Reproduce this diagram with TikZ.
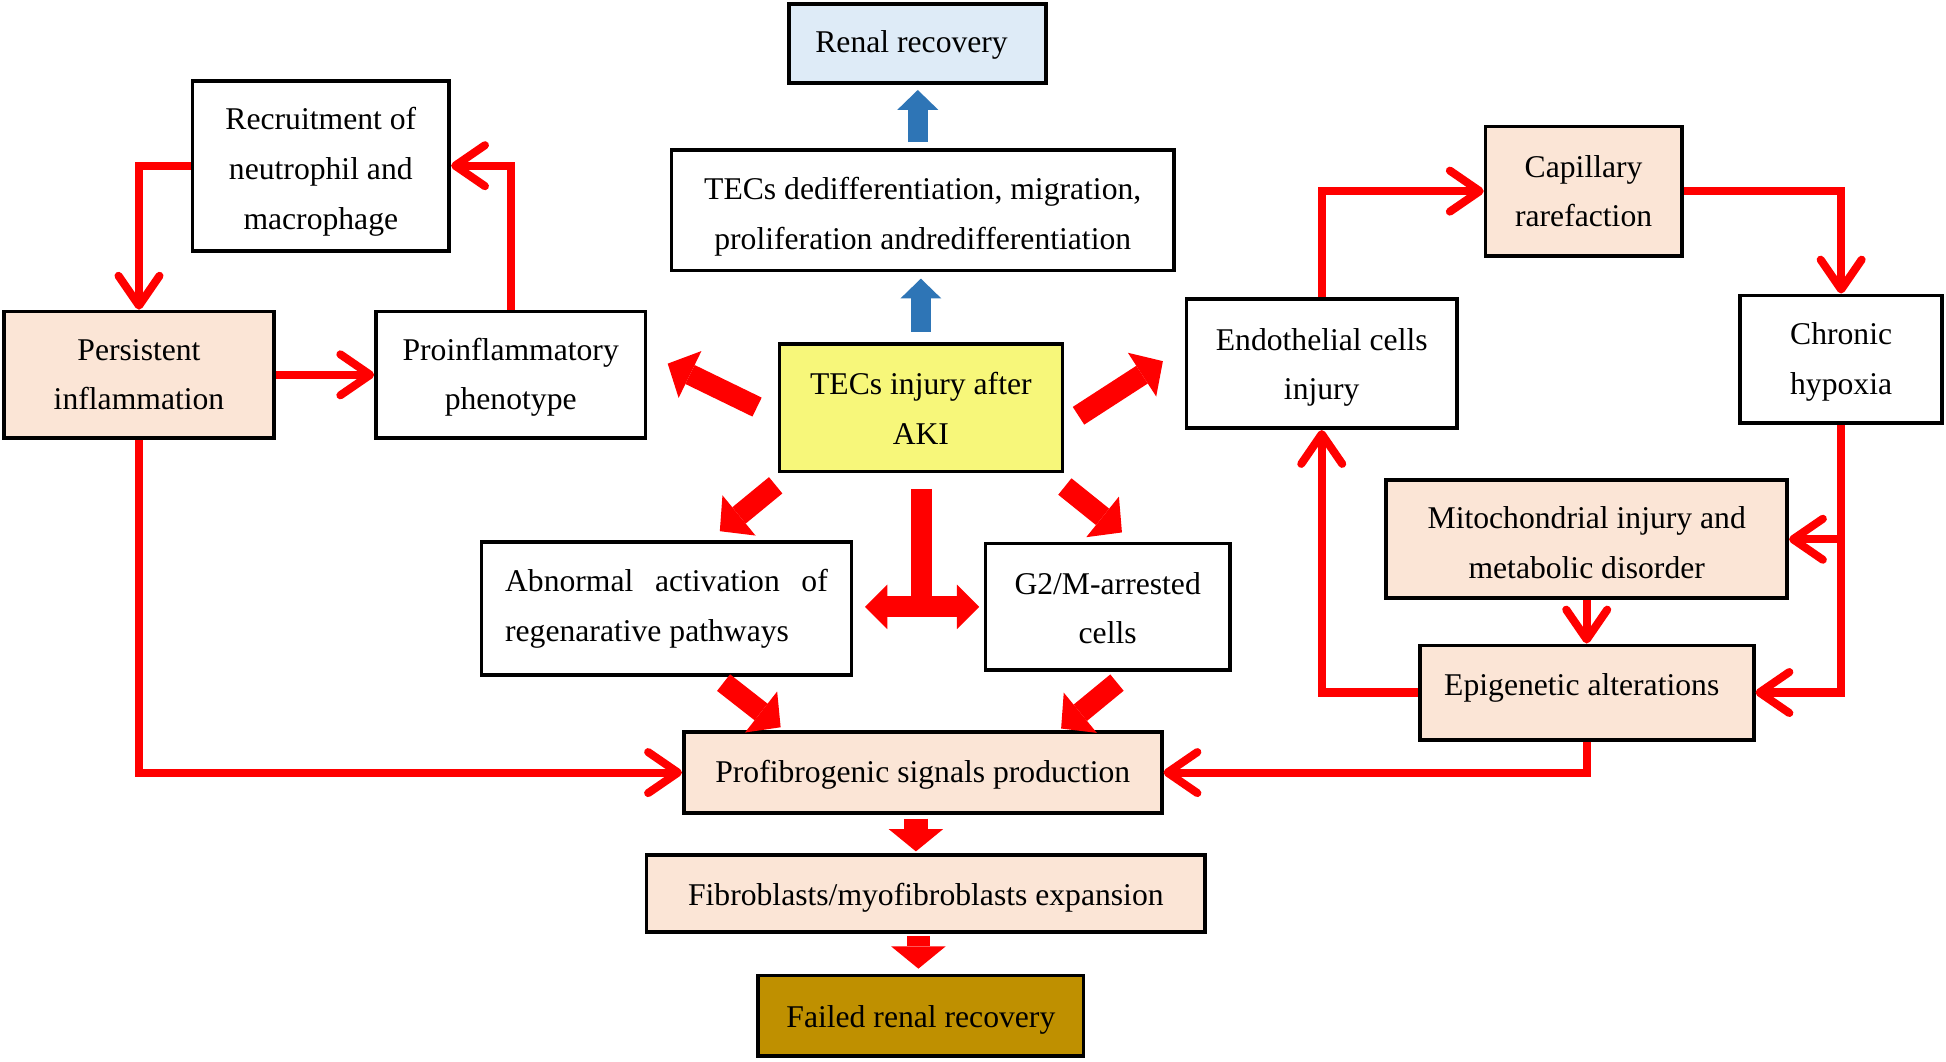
\documentclass[tikz,border=0pt]{standalone}
\usepackage{fontspec}
\setmainfont{Liberation Serif}
\usetikzlibrary{arrows.meta}
\definecolor{peach}{HTML}{FBE5D6}
\definecolor{lblue}{HTML}{DEEBF7}
\definecolor{yel}{HTML}{F7F77A}
\definecolor{gold}{HTML}{BF9000}
\definecolor{bblue}{HTML}{2E75B6}
\definecolor{rred}{HTML}{FF0000}
\begin{document}
\begin{tikzpicture}[x=1pt,y=-1pt,
  box/.style={draw=black, line width=3pt, inner sep=0pt},
  txt/.style={align=center, inner sep=0pt, text=black,
    font=\fontsize{25.5}{40}\selectfont},
  conn/.style={draw=rred, line width=6.5pt, line join=miter,
    -{Straight Barb[length=24pt,width=33pt,round]}},
  blk/.style={draw=rred, line width=17pt,
    -{Triangle[length=20pt,width=42pt,line width=0pt]}},
  dblk/.style={draw=rred, line width=17pt,
    {Triangle[length=18pt,width=36pt,line width=0pt]}-{Triangle[length=18pt,width=36pt,line width=0pt]}},
  bblk/.style={draw=bblue, line width=16pt,
    -{Triangle[length=16pt,width=33pt,line width=0pt]}}
]
\useasboundingbox (0,0) rectangle (1568,855);
\fill[white] (0,0) rectangle (1568,855);

% boxes
\node[box, fill=lblue, minimum width=207pt, minimum height=64pt] (renal) at (739.5,35) {};
\node[box, fill=white, minimum width=405pt, minimum height=97pt] (dediff) at (743.5,169.5) {};
\node[box, fill=white, minimum width=207pt, minimum height=137pt] (recruit) at (258.5,133.5) {};
\node[box, fill=peach, minimum width=218pt, minimum height=102pt] (persist) at (112,302) {};
\node[box, fill=white, minimum width=217pt, minimum height=102pt] (proinf) at (411.5,302) {};
\node[box, fill=yel, minimum width=228pt, minimum height=103pt] (inj) at (742,328.5) {};
\node[box, fill=white, minimum width=218pt, minimum height=104pt] (endo) at (1065,293) {};
\node[box, fill=peach, minimum width=158pt, minimum height=104pt] (capil) at (1276,154) {};
\node[box, fill=white, minimum width=163pt, minimum height=103pt] (chronic) at (1483.5,289.5) {};
\node[box, fill=peach, minimum width=323pt, minimum height=95pt] (mito) at (1278.5,434.5) {};
\node[box, fill=peach, minimum width=269pt, minimum height=76pt] (epi) at (1278.5,558) {};
\node[box, fill=white, minimum width=298pt, minimum height=107pt] (abn) at (537,490.5) {};
\node[box, fill=white, minimum width=197pt, minimum height=102pt] (g2m) at (892.5,489) {};
\node[box, fill=peach, minimum width=385pt, minimum height=65pt] (prof) at (743.5,622.5) {};
\node[box, fill=peach, minimum width=450pt, minimum height=62pt] (fibro) at (746,720) {};
\node[box, fill=gold, minimum width=262pt, minimum height=65pt] (failed) at (742,818.5) {};

% texts
\node[txt] (renal-t) at ([xshift=-5pt,yshift=-1pt]renal.center) {Renal recovery};
\node[txt] (dediff-t) at ([yshift=-5pt]dediff.center) {TECs dedifferentiation, migration,\\proliferation andredifferentiation};
\node[txt] (recruit-t) at ([yshift=-5pt]recruit.center) {Recruitment of\\neutrophil and\\macrophage};
\node[txt] (persist-t) at (persist.center) {Persistent\\inflammation};
\node[txt] (proinf-t) at ([yshift=-2pt]proinf.center) {Proinflammatory\\phenotype};
\node[txt] (inj-t) at ([yshift=-0.5pt]inj.center) {TECs injury after\\AKI};
\node[txt] (endo-t) at ([yshift=-3pt]endo.center) {Endothelial cells\\injury};
\node[txt] (capil-t) at (capil.center) {Capillary\\rarefaction};
\node[txt] (chronic-t) at ([yshift=-2pt]chronic.center) {Chronic\\hypoxia};
\node[txt] (mito-t) at ([yshift=-3pt]mito.center) {Mitochondrial injury and\\metabolic disorder};
\node[txt] (epi-t) at ([xshift=-4pt,yshift=4pt]epi.center) {Epigenetic alterations};
\node[txt] (abn-t) at (abn.center) {\makebox[260pt][s]{Abnormal activation of}\\\makebox[260pt][l]{regenarative pathways}};
\node[txt] (g2m-t) at ([yshift=-1pt]g2m.center) {G2/M-arrested\\cells};
\node[txt] (prof-t) at ([yshift=-2pt]prof.center) {Profibrogenic signals production};
\node[txt] (fibro-t) at ([yshift=-3pt]fibro.center) {Fibroblasts/myofibroblasts expansion};
\node[txt] (failed-t) at ([yshift=-3pt]failed.center) {Failed renal recovery};

% thin red connectors
\draw[conn] (recruit.west) -| (persist.north);
\draw[conn] (proinf.north) |- (recruit.east);
\draw[conn] (persist.east) -- (proinf.west);
\draw[conn] (persist.south) |- (prof.west);
\draw[conn] (endo.north) |- (capil.west);
\draw[conn] (capil.east) -| (chronic.north);
\draw[conn] (chronic.south) |- (epi.east);
\draw[conn] (chronic.south |- mito.east) -- (mito.east);
\draw[conn] (mito.south) -- (epi.north);
\draw[conn] (epi.west) -| (endo.south);
\draw[conn] (epi.south) |- (prof.east);

% block arrow end points
\coordinate (a1t) at (610,328);  \coordinate (a1h) at (538,293);
\coordinate (a2t) at (869,335);  \coordinate (a2h) at (937,291);
\coordinate (a3t) at (625,391);  \coordinate (a3h) at (580,428);
\coordinate (a4t) at (858,392);  \coordinate (a4h) at (904,429);
\coordinate (a5t) at (583,550);  \coordinate (a5h) at (629,586);
\coordinate (a6t) at (900,550);  \coordinate (a6h) at (855,587);
\coordinate (tTop) at (742.5,394); \coordinate (tJoin) at (742.5,489);
\coordinate (tL) at (697,489); \coordinate (tR) at (789,489);

\draw[blk] (a1t) -- (a1h);
\draw[blk] (a2t) -- (a2h);
\draw[blk] (a3t) -- (a3h);
\draw[blk] (a4t) -- (a4h);
\draw[blk] (a5t) -- (a5h);
\draw[blk] (a6t) -- (a6h);
\draw[draw=rred, line width=17pt] (tTop) -- (tJoin);
\draw[dblk] (tL) -- (tR);

\draw[blk, line width=19pt, -{Triangle[length=18pt,width=44pt,line width=0pt]}, shorten <=3pt, shorten >=1.5pt]
  ([xshift=-5.5pt]prof.south) -- ([xshift=-5.5pt]prof.south |- fibro.north);
\draw[blk, line width=19pt, -{Triangle[length=18pt,width=44pt,line width=0pt]}, shorten <=2pt, shorten >=4pt]
  ([xshift=-2pt]failed.north |- fibro.south) -- ([xshift=-2pt]failed.north);

% blue arrows
\draw[bblk, shorten <=8pt, shorten >=5pt] (inj.north) -- (inj.north |- dediff.south);
\draw[bblk, shorten <=5pt, shorten >=4pt] (renal.south |- dediff.north) -- (renal.south);
\end{tikzpicture}
\end{document}
